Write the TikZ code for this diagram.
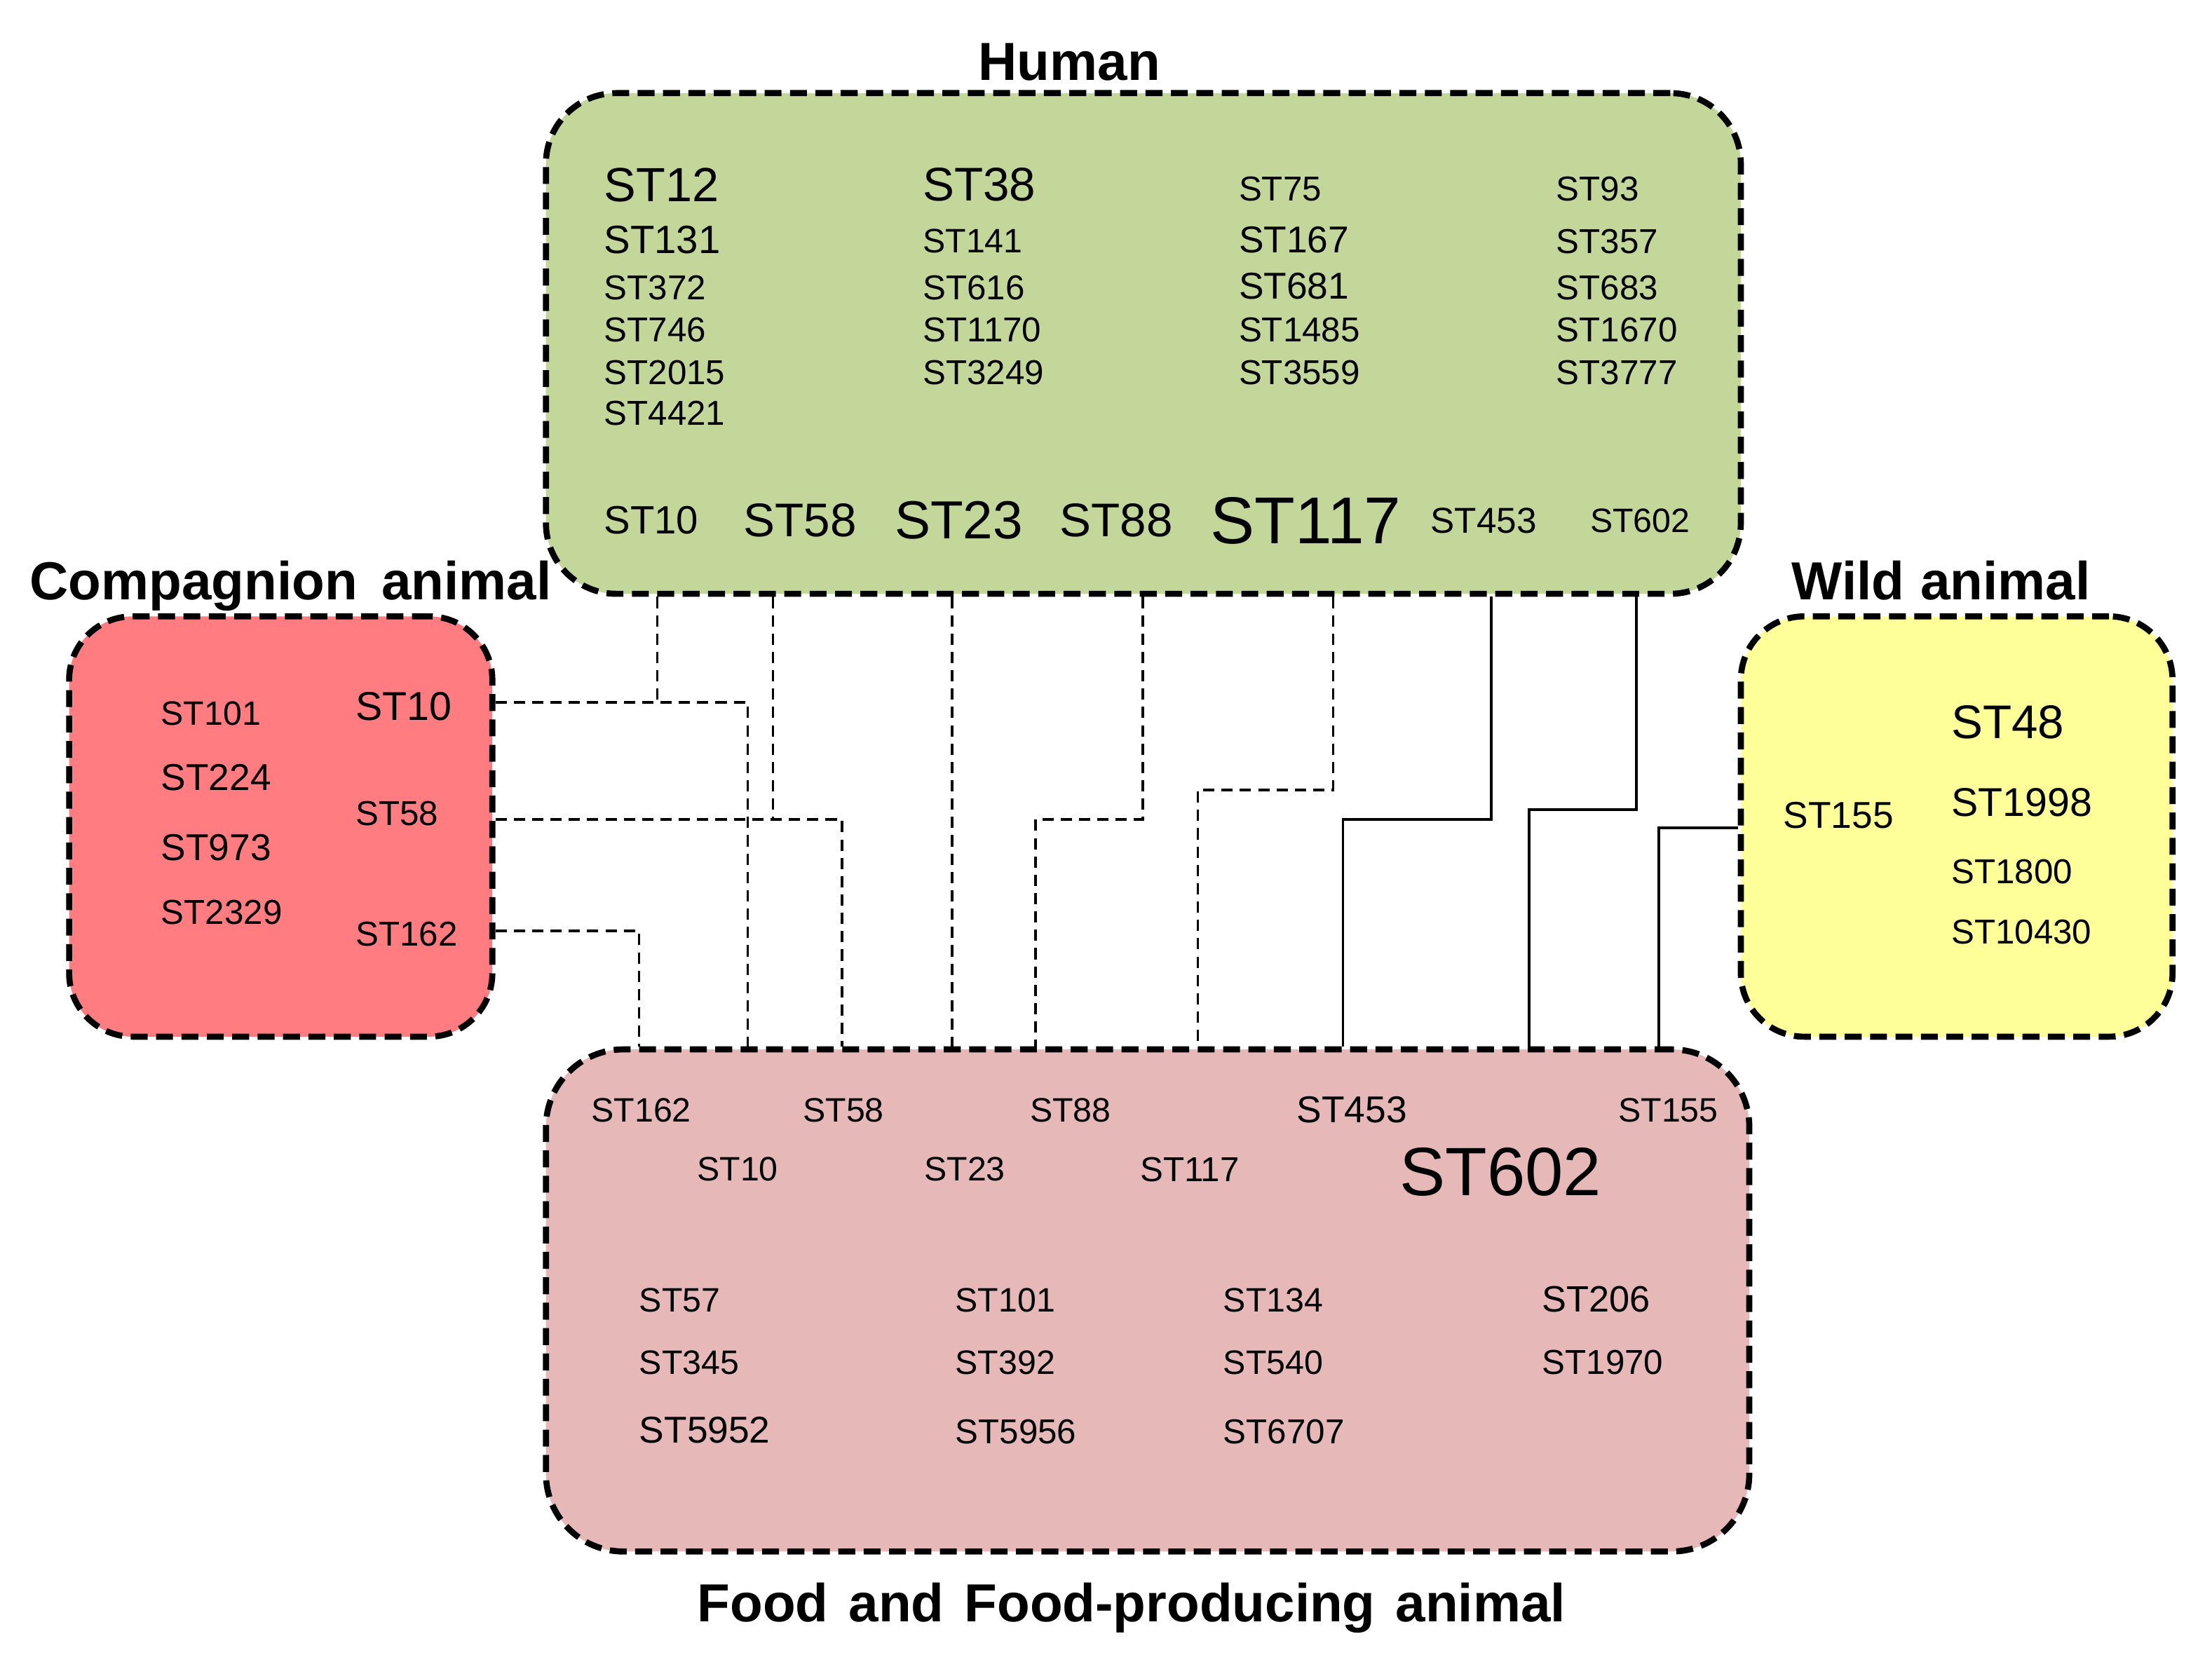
\documentclass[tikz,border=0pt]{standalone}
\usepackage{fontspec}
\setmainfont{Liberation Sans}
\usetikzlibrary{positioning}
\definecolor{humangreen}{HTML}{C4D79B}
\definecolor{comppink}{HTML}{FF7C80}
\definecolor{wildyellow}{HTML}{FFFF99}
\definecolor{foodrose}{HTML}{E6B9B8}

\begin{document}
\begin{tikzpicture}[x=1pt,y=-1pt,
		every node/.style={inner sep=0pt},
		stbox/.style={rectangle,rounded corners=#1,draw=black,line width=4.3pt,dash pattern=on 12pt off 6pt},
		st/.style={font=\fontsize{#1}{#1}\selectfont,anchor=west},
		title/.style={font=\bfseries\fontsize{38}{40}\selectfont,anchor=base},
		link/.style={line width=1.8pt,dash pattern=on 8pt off 5pt},
		solidlink/.style={line width=1.8pt}
	]
	\fill[white] (0,0) rectangle (1568,1178);
	\useasboundingbox (0,0) rectangle (1568,1178);

	% source groups
	\node[stbox=50pt,fill=humangreen,minimum width=847pt,minimum height=355pt](human) at (810.5,243.5){};
	\node[stbox=45pt,fill=comppink,minimum width=300pt,minimum height=298pt](comp) at (199,586){};
	\node[stbox=45pt,fill=wildyellow,minimum width=306pt,minimum height=298pt](wild) at (1387,586){};
	\node[stbox=55pt,fill=foodrose,minimum width=853pt,minimum height=356pt](food) at (813.5,922){};

	\node[title](humant) at (758,57){Human};
	\node[title](compt) at (206,425){Compagnion\hspace{0.45em}animal};
	\node[title](wildt) at (1376,425){Wild\hspace{0.3em}animal};
	\node[title](foodt) at (802,1150){Food\hspace{0.38em}and\hspace{0.38em}Food-producing\hspace{0.38em}animal};

	% human
	\foreach \t/\y/\s in {12/131/34,131/170/28,372/204/24.5,746/234/24.5,2015/264/24.5,4421/293/24.5}
		\node[st=\s](h\t) at (428,\y){ST\t};
	\foreach \t/\y/\s in {38/131/33.5,141/171/24,616/204/24.5,1170/234/24.5,3249/264/24.5}
		\node[st=\s](h\t) at (654,\y){ST\t};
	\foreach \t/\y/\s in {75/134/24.5,167/170/26.5,681/203/26.5,1485/234/24.5,3559/264/24.5}
		\node[st=\s](h\t) at (878,\y){ST\t};
	\foreach \t/\y/\s in {93/134/24.5,357/171/24.5,683/204/24.5,1670/234/24.5,3777/264/24.5}
		\node[st=\s](h\t) at (1103,\y){ST\t};
	\foreach \t/\x/\s in {10/428/28,58/527/33.5,23/634/38,88/751/33.5,117/858/47,453/1014/25.5,602/1127/24}
		\node[st=\s](h\t) at (\x,369){ST\t};

	% companion animal
	\foreach \t/\x/\y/\s in {101/114/506/24,224/114/551/26.5,973/114/601/26.5,2329/114/647/24.5,
			10/252/501/28.5,58/252/577/24.5,162/252/662/24.5}
		\node[st=\s](c\t) at (\x,\y){ST\t};

	% wild animal
	\foreach \t/\x/\y/\s in {155/1264/578/26.5,48/1383/512/33.5,1998/1383/569/28.5,1800/1383/618/24.5,10430/1383/661/24.5}
		\node[st=\s](w\t) at (\x,\y){ST\t};

	% food and food-producing animal
	\foreach \t/\x/\y/\s in {162/419/787/24,58/569/787/24,88/730/787/24,453/919/787/26.5,155/1147/787/24,
			10/494/829/24,23/655/829/24,117/808/829/24.5,602/992/831/48.5,
			57/453/922/24,345/453/966/24,5952/453/1014/26.5,
			101/677/922/24,392/677/966/24,5956/677/1015/24.5,
			134/867/922/24,540/867/966/24,6707/867/1015/24.5,
			206/1093/921/26,1970/1093/966/24.5}
		\node[st=\s](f\t) at (\x,\y){ST\t};

	% shared STs
	\coordinate (j10) at (466,498);
	\coordinate (j58) at (548,581);
	\draw[link] (comp.east |- j10) -| (530,0 |- food.north);
	\draw[link] (j10 |- human.south) -- (j10);
	\draw[link] (comp.east |- j58) -| (597,0 |- food.north);
	\draw[link] (j58 |- human.south) -- (j58);
	\draw[link] (comp.east |- 0,660) -| (453,0 |- food.north);
	\foreach \xa/\ym/\xb/\sty in {675/581/675/link,810/581/734/link,945/560/849/link,1057/581/952/solidlink,1160/574/1084/solidlink}
		\draw[\sty] (\xa,0 |- human.south) |- (\xb,\ym) -- (\xb,0 |- food.north);
	\draw[solidlink] (wild.west |- 0,587) -| (1176,0 |- food.north);
\end{tikzpicture}
\end{document}
